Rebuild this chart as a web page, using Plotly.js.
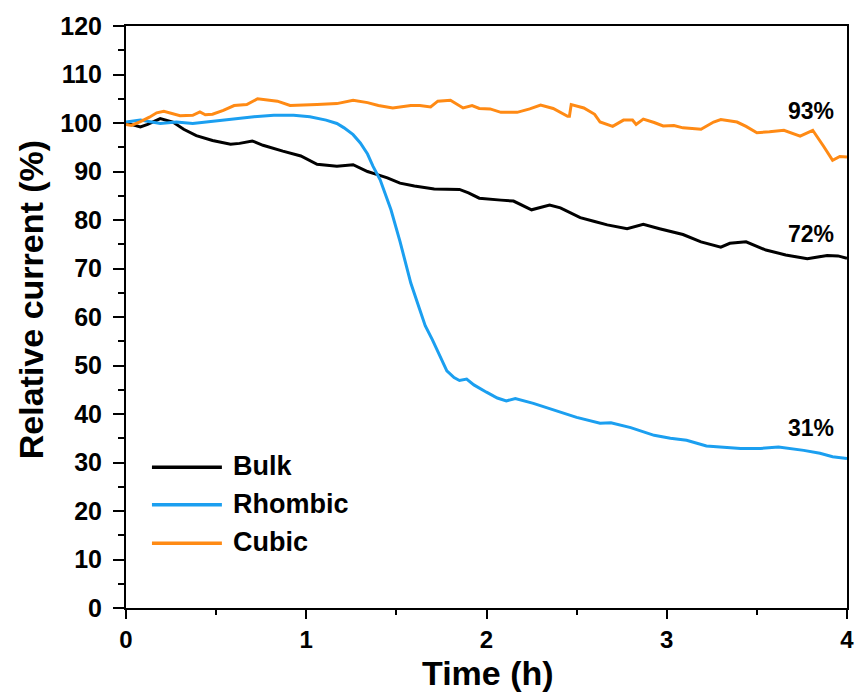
<!DOCTYPE html>
<html>
<head>
<meta charset="utf-8">
<script src="https://cdn.plot.ly/plotly-3.0.1.min.js"></script>
<style>
  html, body { margin: 0; padding: 0; background: #fff; }
  #chart { width: 858px; height: 694px; }
</style>
</head>
<body>
<div id="chart"></div>
<script>
// Time axis (h) and relative current (%) for each catalyst
const bulkTime = [0, 0.04, 0.08, 0.12, 0.19, 0.26, 0.32, 0.39, 0.48, 0.58, 0.63, 0.70, 0.76, 0.87, 0.97,
  1.06, 1.17, 1.26, 1.34, 1.39, 1.45, 1.52, 1.60, 1.71, 1.85, 1.90, 1.96, 2.08, 2.15, 2.25, 2.35, 2.41,
  2.52, 2.60, 2.67, 2.78, 2.87, 2.96, 3.02, 3.09, 3.19, 3.30, 3.35, 3.44, 3.55, 3.66, 3.78, 3.89, 3.95, 4.00];
const bulkCurrent = [100.0, 99.6, 99.2, 99.7, 100.9, 100.2, 98.7, 97.4, 96.4, 95.6, 95.8, 96.3, 95.4, 94.2, 93.2,
  91.5, 91.1, 91.4, 90.0, 89.4, 88.7, 87.6, 87.0, 86.4, 86.3, 85.6, 84.5, 84.1, 83.9, 82.1, 83.1, 82.5,
  80.5, 79.7, 79.0, 78.2, 79.1, 78.2, 77.6, 77.0, 75.5, 74.4, 75.2, 75.5, 73.8, 72.8, 72.0, 72.7, 72.6, 72.1];

const rhombicTime = [0, 0.08, 0.19, 0.28, 0.37, 0.48, 0.60, 0.71, 0.82, 0.93, 1.02, 1.11, 1.17, 1.21, 1.26, 1.30,
  1.34, 1.37, 1.41, 1.45, 1.47, 1.52, 1.55, 1.58, 1.63, 1.66, 1.70, 1.74, 1.78, 1.82, 1.85, 1.89, 1.93,
  2.00, 2.06, 2.11, 2.16, 2.26, 2.39, 2.50, 2.63, 2.69, 2.80, 2.93, 3.02, 3.11, 3.22, 3.41, 3.52, 3.62,
  3.76, 3.85, 3.92, 4.00];
const rhombicCurrent = [100.2, 100.6, 99.9, 100.2, 99.9, 100.4, 100.9, 101.3, 101.6, 101.6, 101.3, 100.6, 99.9, 99.0, 97.6, 95.9,
  93.6, 91.1, 88.3, 84.2, 82.1, 75.6, 71.0, 67.0, 61.5, 58.2, 55.3, 52.0, 48.9, 47.5, 46.9, 47.2, 46.0,
  44.5, 43.3, 42.7, 43.2, 42.2, 40.7, 39.3, 38.1, 38.2, 37.2, 35.6, 35.0, 34.6, 33.4, 32.9, 32.9, 33.2,
  32.5, 31.9, 31.2, 30.8];

const cubicTime = [0, 0.03, 0.08, 0.13, 0.17, 0.21, 0.30, 0.37, 0.41, 0.44, 0.48, 0.54, 0.60, 0.67, 0.73,
  0.80, 0.84, 0.91, 1.00, 1.06, 1.17, 1.26, 1.34, 1.40, 1.48, 1.58, 1.63, 1.69, 1.73, 1.80, 1.87, 1.92,
  1.96, 2.02, 2.08, 2.17, 2.24, 2.30, 2.37, 2.45, 2.46, 2.47, 2.54, 2.60, 2.63, 2.70, 2.76, 2.81, 2.83,
  2.87, 2.93, 2.98, 3.04, 3.09, 3.19, 3.26, 3.30, 3.39, 3.44, 3.50, 3.57, 3.65, 3.74, 3.81, 3.87, 3.92,
  3.96, 4.00];
const cubicCurrent = [99.7, 99.5, 100.3, 101.2, 102.1, 102.4, 101.5, 101.6, 102.3, 101.7, 101.8, 102.6, 103.6, 103.8, 105.0,
  104.7, 104.5, 103.6, 103.8, 103.8, 104.0, 104.7, 104.2, 103.6, 103.1, 103.6, 103.6, 103.3, 104.5, 104.7, 103.1, 103.6,
  103.0, 102.9, 102.2, 102.2, 102.9, 103.7, 103.0, 101.4, 101.4, 103.8, 103.1, 101.8, 100.2, 99.3, 100.6, 100.6, 99.7,
  100.8, 100.1, 99.4, 99.5, 99.0, 98.7, 100.2, 100.7, 100.2, 99.3, 98.0, 98.2, 98.5, 97.3, 98.5, 95.2, 92.3,
  93.1, 93.0];

const seriesNames = ["Bulk", "Rhombic", "Cubic"];
const seriesColors = ["#000000", "#1B9FF0", "#FF8A14"];
const retentionLabels = ["93%", "72%", "31%"];
const retentionY = [102.4, 77.2, 37.2];
const xTickVals = [0, 1, 2, 3, 4];
const yTickVals = [0, 10, 20, 30, 40, 50, 60, 70, 80, 90, 100, 110, 120];

const FONT = "'Liberation Sans', Arial, Helvetica, sans-serif";

const times = [bulkTime, rhombicTime, cubicTime];
const currents = [bulkCurrent, rhombicCurrent, cubicCurrent];

const traces = seriesNames.map((name, i) => ({
  type: "scatter",
  mode: "lines",
  name: name,
  x: times[i],
  y: currents[i],
  line: { color: seriesColors[i], width: 3 },
  showlegend: false,
  hoverinfo: "skip"
}));

// Hand-placed legend: long line samples with bold labels at the lower left
const legendY = [0.242, 0.1775, 0.1114];
const shapes = seriesNames.map((name, i) => ({
  type: "line", xref: "paper", yref: "paper",
  x0: 0.036, x1: 0.133, y0: legendY[i], y1: legendY[i],
  line: { color: seriesColors[i], width: 3.5 }
}));

const annotations = [];
seriesNames.forEach((name, i) => {
  annotations.push({
    xref: "paper", yref: "paper", x: 0.1456, y: legendY[i],
    xanchor: "left", yanchor: "middle", yshift: 1,
    text: name, showarrow: false,
    font: { family: FONT, size: 27, color: "#000", weight: "bold" }
  });
});
retentionLabels.forEach((lbl, i) => {
  annotations.push({
    xref: "x", yref: "y", x: 3.80, y: retentionY[i],
    xanchor: "center", yanchor: "middle",
    text: lbl, showarrow: false,
    font: { family: FONT, size: 23, color: "#000", weight: "bold" }
  });
});
// Axis titles
annotations.push({
  xref: "paper", yref: "paper", x: 0.502, y: -0.1058,
  xanchor: "center", yanchor: "middle", yshift: -3,
  text: "Time (h)", showarrow: false,
  font: { family: FONT, size: 34, color: "#000", weight: "bold" }
});
annotations.push({
  xref: "paper", yref: "paper", x: -0.1318, y: 0.5305,
  xanchor: "center", yanchor: "middle", textangle: -90,
  text: "Relative current (%)", showarrow: false,
  font: { family: FONT, size: 34, color: "#000", weight: "bold" }
});

const layout = {
  width: 858,
  height: 694,
  margin: { l: 126, r: 11, t: 26, b: 86, pad: 0 },
  paper_bgcolor: "#ffffff",
  plot_bgcolor: "#ffffff",
  showlegend: false,
  xaxis: {
    range: [0, 4],
    tickvals: xTickVals,
    ticktext: xTickVals.map(String),
    showgrid: false, zeroline: false,
    showline: true, linecolor: "#000", linewidth: 2, mirror: true,
    ticks: "outside", ticklen: 9, tickwidth: 2, tickcolor: "#000",
    ticklabelstandoff: 0,
    minor: { dtick: 0.5, tick0: 0, ticks: "outside", ticklen: 5, tickwidth: 2, tickcolor: "#000", showgrid: false },
    tickfont: { family: FONT, size: 24, color: "#000", weight: "bold" }
  },
  yaxis: {
    range: [0, 120],
    tickvals: yTickVals,
    ticktext: yTickVals.map(String),
    showgrid: false, zeroline: false,
    showline: true, linecolor: "#000", linewidth: 2, mirror: true,
    ticks: "outside", ticklen: 11, tickwidth: 2, tickcolor: "#000",
    ticklabelstandoff: 6,
    minor: { dtick: 5, tick0: 0, ticks: "outside", ticklen: 6, tickwidth: 2, tickcolor: "#000", showgrid: false },
    tickfont: { family: FONT, size: 25, color: "#000", weight: "bold" }
  },
  shapes: shapes,
  annotations: annotations
};

Plotly.newPlot("chart", traces, layout, { staticPlot: true, displayModeBar: false });
</script>
</body>
</html>
